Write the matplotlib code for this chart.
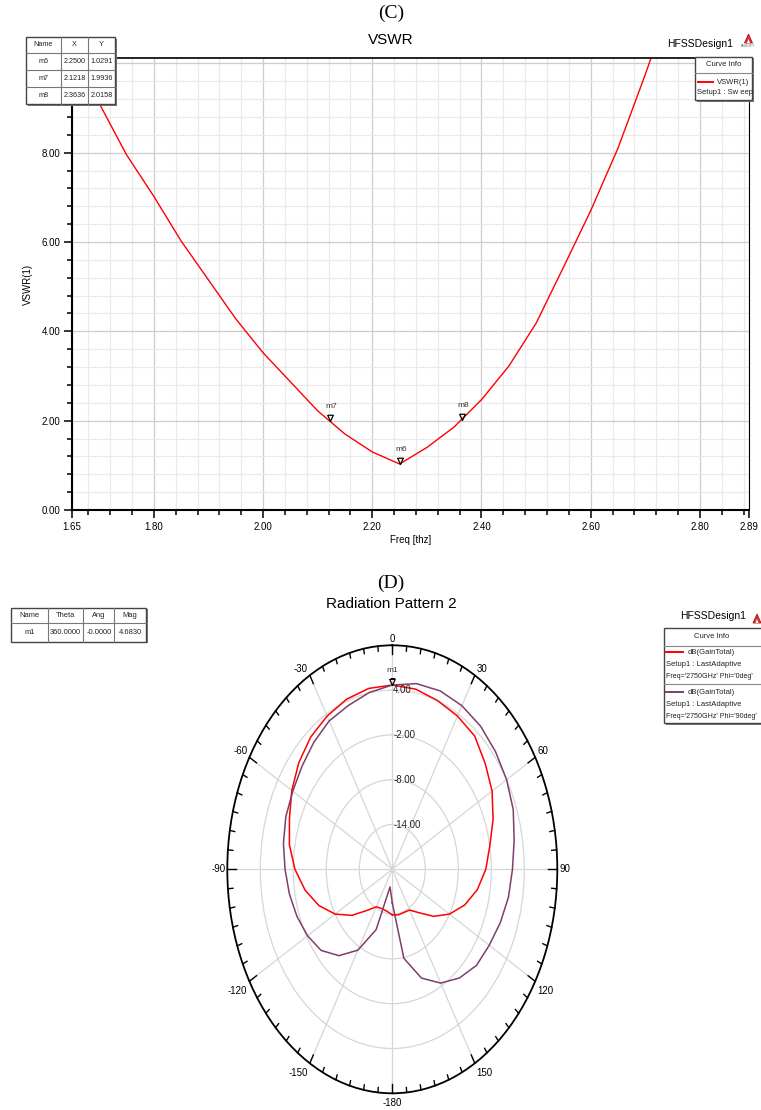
import numpy as np
import matplotlib
matplotlib.use('Agg')
import matplotlib.pyplot as plt
from matplotlib import font_manager
from matplotlib.patches import Rectangle, Polygon

W, H = 761, 1110

# ---------------- (C) VSWR sweep ----------------
freq_thz = [1.65, 1.70, 1.75, 1.80, 1.85, 1.90, 1.95, 2.00, 2.05, 2.10, 2.15, 2.20,
            2.25, 2.30, 2.35, 2.40, 2.45, 2.50, 2.55, 2.60, 2.65, 2.70, 2.75]
vswr = [10.35, 9.10, 7.95, 7.02, 6.02, 5.15, 4.28, 3.52, 2.87, 2.22, 1.70, 1.30,
        1.03, 1.40, 1.86, 2.47, 3.22, 4.18, 5.43, 6.70, 8.10, 9.75, 11.50]
mk_names = ['m6', 'm7', 'm8']
mk_x = [2.2500, 2.1218, 2.3636]
mk_y = [1.0291, 1.9936, 2.0158]
xtick_vals = [1.65, 1.80, 2.00, 2.20, 2.40, 2.60, 2.80, 2.89]
ytick_vals = [0, 2, 4, 6, 8, 10]

# ---------------- (D) radiation pattern ----------------
theta_deg = [-180, -170, -160, -150, -140, -130, -120, -110, -100, -90, -80, -70, -60,
             -50, -40, -30, -20, -10, 0, 10, 20, 30, 40, 50, 60, 70, 80, 90, 100,
             110, 120, 130, 140, 150, 160, 170, 180]
gain_phi0 = [-13.9, -14.3, -14.4, -14.2, -12.8, -10.4, -8.0, -5.8, -3.9, -2.3, -1.0, -0.1, 1.1,
             2.2, 3.1, 3.7, 4.25, 4.6, 4.68, 4.5, 4.05, 3.7, 3.3, 2.05, 0.95, -0.5, -2.0,
             -3.0, -4.3, -6.0, -8.0, -10.2, -12.4, -13.7, -13.85, -13.8, -13.9]
gain_phi90 = [-15.5, -17.6, -11.4, -7.5, -4.9, -3.1, -2.2, -1.55, -1.0, -0.5, 0.1, 0.6, 0.9,
              1.45, 2.2, 2.95, 3.35, 4.05, 4.68, 5.25, 5.43, 5.3, 5.0, 4.5, 4.0, 3.4, 2.5,
              1.85, 1.45, 0.9, 0.35, 0.0, -1.0, -2.4, -4.5, -7.9, -15.5]
ring_vals = [-14, -8, -2, 4]
angle_ticks = [0, 30, 60, 90, 120, 150, 180, 210, 240, 270, 300, 330]
angle_labels = ['0', '30', '60', '90', '120', '150', '-180', '-150', '-120', '-90', '-60', '-30']
m1_theta, m1_ang, m1_mag = 360.0, -0.0, 4.6830

names = {f.name for f in font_manager.fontManager.ttflist}
SANS = 'Liberation Sans Narrow' if 'Liberation Sans Narrow' in names else 'Liberation Sans'
SERIF = 'Liberation Serif'
plt.rcParams['font.family'] = [SANS, 'DejaVu Sans']

RED = '#FF0000'
PURPLE = '#7E3E6C'
TXT = '#222222'

fig = plt.figure(figsize=(W / 100, H / 100), dpi=100)
fig.patch.set_facecolor('white')

# down-pointing hollow triangle with its tip on the data point
tri = [(-0.45, 1.0), (0.45, 1.0), (0.0, 0.0), (-0.45, 1.0)]

# ---------------- top chart ----------------
ax = fig.add_axes([72 / W, 1 - 510 / H, (749 - 72) / W, (510 - 58) / H])
ax.plot(freq_thz, vswr, color=RED, lw=1.0)
ax.set_xlim(1.65, 2.89)
ax.set_ylim(0, 10.12)
ax.set_xticks(xtick_vals)
ax.set_xticklabels([f'{v:.2f}' for v in xtick_vals])
ax.set_xticks(np.round(np.arange(42, 73) * 0.04, 2), minor=True)
ax.set_yticks(ytick_vals)
# the 10.00 label sits under the marker table
ax.set_yticklabels([f'{v:.2f}' if v < 10 else '' for v in ytick_vals])
ax.set_yticks(np.round(np.arange(0, 26) * 0.4, 2), minor=True)
ax.set_axisbelow(True)
ax.grid(which='minor', color='#EAEAEA', lw=0.9)
ax.grid(which='major', color='#CDCDCD', lw=0.9)
ax.tick_params(which='major', direction='out', length=5.5, width=1.1, labelsize=7, pad=3)
ax.tick_params(which='minor', direction='out', length=3.5, width=1.1)
for s in ['left', 'bottom']:
    ax.spines[s].set_linewidth(1.5)
ax.spines['top'].set_linewidth(1.2)
ax.spines['right'].set_linewidth(0.8)
ax.set_xlabel('Freq [thz]', fontsize=7, labelpad=2)
ax.set_ylabel('VSWR(1)', fontsize=7)
ax.yaxis.set_label_coords((33 - 72) / 677, 0.5)

for n, x, y in zip(mk_names, mk_x, mk_y):
    ax.plot(x, y, marker=tri, ms=9, mfc='none', mec='black', mew=0.9, ls='none')
    ax.annotate(n, (x, y), xytext=(1, 10.5), textcoords='offset points',
                ha='center', va='center', fontsize=6, color='#333333')

# ---------------- polar chart ----------------
cx, cy, a, b = 392.3, 869.3, 165, 224
pax = fig.add_axes([(cx - a) / W, 1 - (cy + b) / H, 2 * a / W, 2 * b / H], projection='polar')
pax.set_aspect('auto')
pax.set_theta_zero_location('N')
pax.set_theta_direction(-1)
pax.set_ylim(-20, 10)
pax.set_yticks(ring_vals)
pax.set_yticklabels([])
pax.set_xticks(np.deg2rad(angle_ticks))
pax.set_xticklabels([])
pax.tick_params(axis='x', length=0)
pax.grid(True, color='#D6D6D6', lw=0.9)
pax.spines['polar'].set_linewidth(1.3)

th = np.deg2rad(theta_deg)
pax.plot(th, gain_phi0, color=RED, lw=1.1)
pax.plot(th, gain_phi90, color=PURPLE, lw=1.1)

# ticks on the outer ring, pointing inward
sx, sy = a / 30.0, b / 30.0
for d in range(0, 360, 5):
    t = np.deg2rad(d)
    Lpx = 9 if d % 30 == 0 else 5
    L = Lpx / np.hypot(sx * np.sin(t), sy * np.cos(t))
    pax.plot([t, t], [10 - L, 10], color='black', lw=1.0, clip_on=False)

for d, lab in zip(angle_ticks, angle_labels):
    t = np.deg2rad(d)
    s, c = np.sin(t), np.cos(t)
    ha = 'left' if s > 0.01 else ('right' if s < -0.01 else 'center')
    va = 'bottom' if c > 0.01 else ('top' if c < -0.01 else 'center')
    ox = 2 * np.sign(round(s, 2))
    oy = 1 if c > 0.01 else (-5 if c < -0.01 else 0)
    pax.annotate(lab, (t, 10), xytext=(ox, oy), textcoords='offset pixels',
                 ha=ha, va=va, fontsize=7, annotation_clip=False)

for r in ring_vals:
    pax.annotate(f'{r:.2f}', (0, r), xytext=(1, 0), textcoords='offset pixels',
                 ha='left', va='center', fontsize=7, color=TXT)

pax.plot(np.deg2rad(m1_theta), m1_mag, marker=tri, ms=9, mfc='none', mec='black',
         mew=0.9, ls='none')
pax.annotate('m1', (np.deg2rad(m1_theta), m1_mag), xytext=(0, 10.5), textcoords='offset points',
             ha='center', va='center', fontsize=6, color='#333333')

# ---------------- overlay in pixel coordinates ----------------
ov = fig.add_axes([0, 0, 1, 1], zorder=10)
ov.set_xlim(0, W)
ov.set_ylim(H, 0)
ov.axis('off')
ov.patch.set_alpha(0)


def draw_table(cols, rows, cells, fs=5.4):
    x0, x1, y0, y1 = cols[0], cols[-1], rows[0], rows[-1]
    ov.add_patch(Rectangle((x0 + 1.5, y0 + 1.5), x1 - x0, y1 - y0, fc='#777777', ec='none'))
    ov.add_patch(Rectangle((x0, y0), x1 - x0, y1 - y0, fc='white', ec='#444444', lw=1.0))
    for xc in cols[1:-1]:
        ov.plot([xc, xc], [y0, y1], color='#777777', lw=0.8)
    for yr in rows[1:-1]:
        ov.plot([x0, x1], [yr, yr], color='#777777', lw=0.8)
    for i, row in enumerate(cells):
        for j, txt in enumerate(row):
            ov.text((cols[j] + cols[j + 1]) / 2, (rows[i] + rows[i + 1]) / 2, txt,
                    ha='center', va='center', fontsize=fs, color=TXT)


top_cells = [['Name', 'X', 'Y']] + [[n, f'{x:.4f}', f'{y:.4f}'] for n, x, y in zip(mk_names, mk_x, mk_y)]
draw_table([26, 61, 88, 115], [37, 53, 70, 87, 104], top_cells, fs=5.2)
bot_cells = [['Name', 'Theta', 'Ang', 'Mag'], ['m1', f'{m1_theta:.4f}', '-0.0000', f'{m1_mag:.4f}']]
draw_table([11, 47.7, 83.3, 114.3, 146], [607.7, 623.3, 641.7], bot_cells, fs=5.4)

# titles
ov.text(391, 13, '(C)', ha='center', va='center', fontsize=14, family=SERIF)
ov.text(391, 40, 'VSWR', ha='center', va='center', fontsize=11)
ov.text(391, 583, '(D)', ha='center', va='center', fontsize=14, family=SERIF)
ov.text(391, 604, 'Radiation Pattern 2', ha='center', va='center', fontsize=11)


def logo(x, y, label=True):
    ov.add_patch(Polygon([(x - 4, y + 4), (x + 4, y + 4), (x, y - 5)], closed=True,
                         fc='#E03030', ec='#B01010', lw=0.6, clip_on=False))
    ov.add_patch(Polygon([(x - 1.5, y + 4), (x + 1.5, y + 4), (x, y)], closed=True,
                         fc='white', ec='none', clip_on=False))
    if label:
        ov.text(x, y + 7, 'ANSOFT', ha='center', va='center', fontsize=2.5, color='#666666')


ov.text(733, 44, 'HFSSDesign1', ha='right', va='center', fontsize=7.5)
logo(748.5, 39)
ov.text(746, 616, 'HFSSDesign1', ha='right', va='center', fontsize=7.5)
logo(757, 619, label=False)

LFS = 5.5
# legend (C)
ov.add_patch(Rectangle((696.5, 58.2), 57.3, 43.3, fc='#777777', ec='none'))
ov.add_patch(Rectangle((695, 56.7), 57.3, 43.3, fc='white', ec='#444444', lw=1.0))
ov.plot([695, 752.3], [73.3, 73.3], color='#888888', lw=0.8)
ov.text(723.6, 65, 'Curve Info', ha='center', va='center', fontsize=LFS, color=TXT)
ov.plot([698, 713], [81.7, 81.7], color=RED, lw=1.4)
ov.text(717, 82, 'VSWR(1)', ha='left', va='center', fontsize=LFS, color=TXT)
ov.text(697, 92.7, 'Setup1 : Sw eep', ha='left', va='center', fontsize=LFS, color=TXT)

# legend (D), its right side runs off the picture as in the original
ov.add_patch(Rectangle((665.5, 629.8), 120, 95, fc='#777777', ec='none', clip_on=False))
ov.add_patch(Rectangle((664, 628.3), 120, 95, fc='white', ec='#444444', lw=1.0, clip_on=False))
ov.plot([664, 761], [645.7, 645.7], color='#888888', lw=0.8)
ov.plot([664, 761], [684, 684], color='#888888', lw=0.8)
ov.text(712, 637, 'Curve Info', ha='center', va='center', fontsize=LFS, color=TXT)
for y0, col, phi in [(652.3, RED, '0deg'), (692, PURPLE, '90deg')]:
    ov.plot([666, 683], [y0, y0], color=col, lw=1.4)
    ov.text(688, y0, 'dB(GainTotal)', ha='left', va='center', fontsize=LFS, color=TXT)
    ov.text(666, y0 + 12, 'Setup1 : LastAdaptive', ha='left', va='center', fontsize=LFS,
            color=TXT)
    ov.text(666, y0 + 24.4, f"Freq='2750GHz' Phi='{phi}'", ha='left', va='center',
            fontsize=5.1, color=TXT)

fig.savefig('out.png', dpi=100)
